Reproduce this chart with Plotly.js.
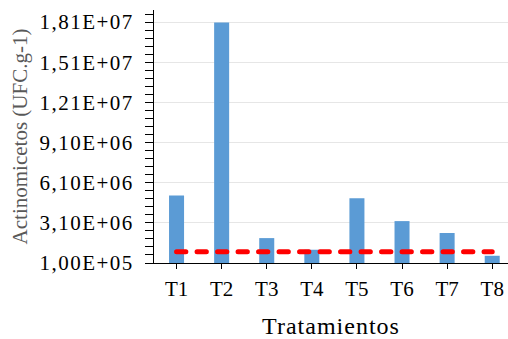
<!DOCTYPE html>
<html>
<head>
<meta charset="utf-8">
<script src="https://cdn.plot.ly/plotly-3.0.1.min.js"></script>
<style>
html,body{margin:0;padding:0;background:#fff;}
#chart{width:508px;height:339px;}
.scatterlayer .js-line{stroke-linecap:round;}
g.ytick text{letter-spacing:1.5px;}
g.g-xtitle text{letter-spacing:1px;}
g.g-ytitle{transform:translateX(-6px);}
</style>
</head>
<body>
<div id="chart"></div>
<script>
const categories = ["T1","T2","T3","T4","T5","T6","T7","T8"];
const actinomicetos = [5.14e6, 1.806e7, 1.96e6, 1.09e6, 4.94e6, 3.23e6, 2.34e6, 6.4e5];
const referencia = [9.4e5, 9.4e5, 9.4e5, 9.4e5, 9.4e5, 9.4e5, 9.4e5, 9.4e5];
const yTickVals = [1.0e5, 3.1e6, 6.1e6, 9.1e6, 1.21e7, 1.51e7, 1.81e7];
const yTickText = ["1,00E+05","3,10E+06","6,10E+06","9,10E+06","1,21E+07","1,51E+07","1,81E+07"];

const serif = "Liberation Serif, Times New Roman, serif";

const data = [
  {type:"bar", x:categories, y:actinomicetos, marker:{color:"#5b9bd5"}, hoverinfo:"skip"},
  {type:"scatter", mode:"lines", x:categories, y:referencia,
   line:{color:"#ff0000", width:5, dash:"9.3px,11.2px"}, hoverinfo:"skip"}
];

const layout = {
  width:508, height:339,
  margin:{l:154, r:0, t:10, b:76},
  paper_bgcolor:"#fff", plot_bgcolor:"#fff",
  showlegend:false,
  bargap:0.667,
  font:{family:serif, color:"#000"},
  xaxis:{
    type:"category",
    range:[-0.5, 7.35],
    showline:true, linecolor:"#000", linewidth:1,
    ticks:"outside", ticklen:5, tickcolor:"#000",
    ticklabelstandoff:2,
    tickfont:{size:21, family:serif, color:"#000"},
    showgrid:false, zeroline:false,
    title:{text:"Tratamientos", font:{size:24, family:serif, color:"#000"}, standoff:17}
  },
  yaxis:{
    range:[1e5, 1.9e7],
    tickmode:"array", tickvals:yTickVals, ticktext:yTickText,
    showline:true, linecolor:"#000", linewidth:1,
    ticks:"outside", ticklen:8, tickcolor:"#000",
    ticklabelstandoff:7,
    tickfont:{size:21, family:serif, color:"#000"},
    showgrid:true, gridcolor:"#e6e6e6", gridwidth:1,
    zeroline:false,
    minor:{dtick:6e5, tick0:1e5, ticks:"outside", ticklen:8, tickcolor:"#000", showgrid:false},
    title:{text:"Actinomicetos (UFC.g-1)", font:{size:21, family:serif, color:"#595959"}, standoff:0}
  }
};

Plotly.newPlot("chart", data, layout, {displayModeBar:false, staticPlot:true});
</script>
</body>
</html>
